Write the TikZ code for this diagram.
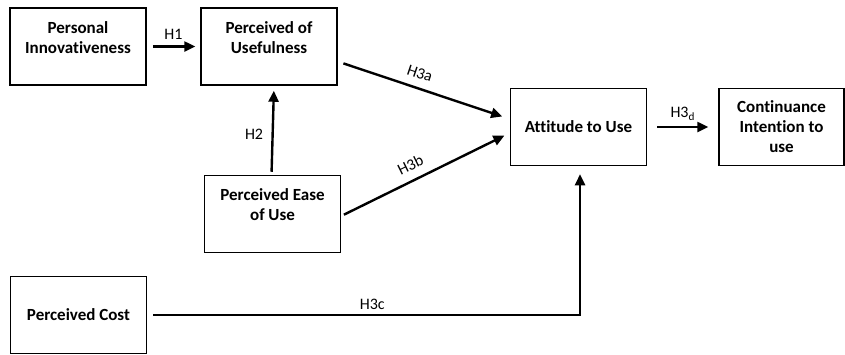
\documentclass[tikz,border=0pt]{standalone}
\usepackage{fontspec}
\setmainfont{Carlito}[Ligatures=CommonOff]
\usetikzlibrary{positioning,arrows.meta}

\begin{document}
\begin{tikzpicture}[x=1pt,y=-1pt,font=\fontsize{16}{19}\selectfont,
  var/.style={draw,line width=1.5pt,minimum width=136pt,minimum height=77pt,align=center,font=\fontsize{17}{20}\selectfont\bfseries},
  upper/.style={text depth=18pt},
  rel/.style={-{Triangle[length=11pt,width=10pt]},line width=2.4pt}]
\useasboundingbox (0,0) rectangle (845,354);
% constructs
\node[var,upper] (innov) at (78,46.5) {Personal\\Innovativeness};
\node[var,upper] (useful) at (269,46.5) {Perceived of\\Usefulness};
\node[var,upper] (ease) at (272.5,214) {Perceived Ease\\of Use};
\node[var] (attitude) at (578.5,127) {Attitude to Use};
\node[var,minimum width=125pt] (intent) at (781.5,127) {Continuance\\Intention to\\use};
\node[var] (cost) at (78.5,315) {Perceived Cost};
% hypotheses
\draw[rel,shorten <=6pt,shorten >=5pt] (innov) -- node[above=2pt] {H1} (useful);
\draw[rel,shorten <=3pt,shorten >=5pt] ([xshift=-1pt]ease.north) -- node[left=5pt,pos=0.45] {H2} ([xshift=1.5pt]ease.north |- useful.south);
\draw[rel,shorten <=6pt,shorten >=8pt] ([yshift=-15pt]useful.east) -- node[above=5pt,sloped,pos=0.45] {H3a} ([yshift=8pt]attitude.west);
\draw[rel,shorten <=3pt,shorten >=6pt] ([yshift=-2pt]ease.east) -- node[above=5pt,sloped,pos=0.45] {H3b} ([yshift=-6pt]attitude.west);
\draw[rel,shorten <=10pt,shorten >=10pt] (attitude) -- node[above=2pt] {H3\textsubscript{d}} (intent);
\draw[rel,shorten <=6pt,shorten >=8pt] (cost.east) -| node[pos=0.26,above=1pt] {H3c} ([xshift=1.5pt]attitude.south);
\end{tikzpicture}
\end{document}
